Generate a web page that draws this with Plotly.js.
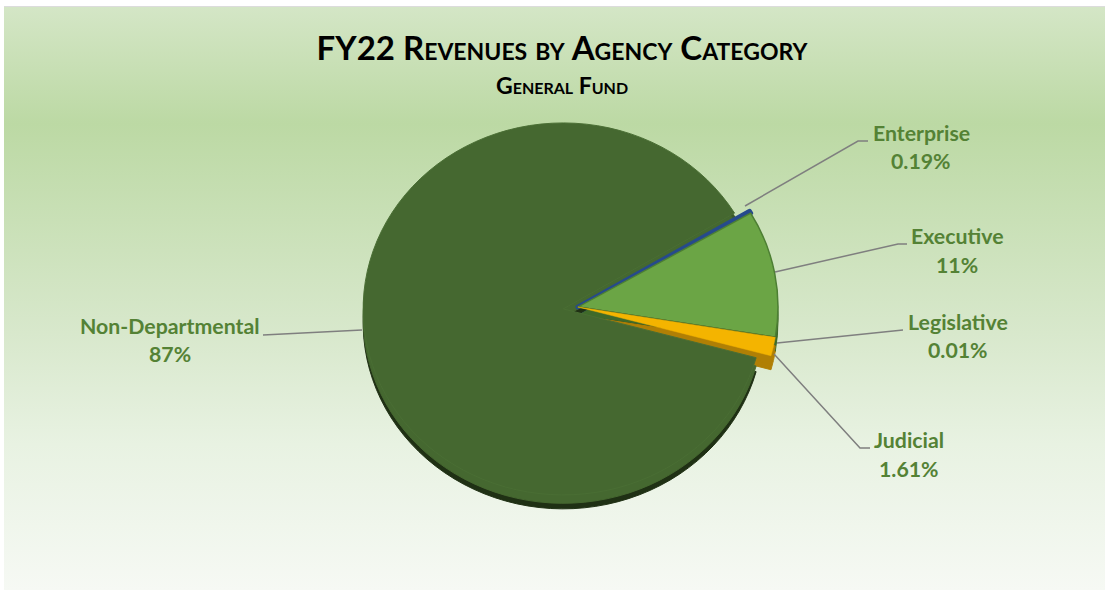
<!DOCTYPE html>
<html>
<head>
<meta charset="utf-8">
<script src="https://cdn.plot.ly/plotly-3.0.1.min.js"></script>
<style>
html,body{margin:0;padding:0;background:#fff;width:1108px;height:592px;overflow:hidden}
#bg{position:absolute;left:4px;top:6px;width:1101px;height:584px;border-top:1px solid #dcdcdc;box-sizing:border-box;
background:linear-gradient(180deg,#d4e6c6 0%,#bcd9a4 20%,#d8e8cc 56%,#e8f2e2 75%,#f6f9f4 100%)}
#chart{position:absolute;left:0;top:0;width:1108px;height:592px}
</style>
</head>
<body>
<div id="bg"></div>
<div id="chart"></div>
<script>
const categories = ["Enterprise","Executive","Legislative","Judicial","Non-Departmental"];
const shares = [0.19,11,0.01,1.61,87];
const shareLabels = ["0.19%","11%","0.01%","1.61%","87%"];

const W = 1108, H = 592;
const faceColors = ["#264a8c","#6ba545","#43682b","#f4b400","#456830"];
const rimColors = ["#1b3566","#3f6a2a","#2f4a1f","#b07f05","#1f3014"];
const midColors = ["#1b3566","#3f6a2a","#2f4a1f","#b07f05","#456830"];
const edgeColors = ["#264a8c","#4d7f33","#43682b","#f4b400","#4a6e34"];
const edgeWidths = [5,1.5,1.5,0.5,1];
const fillColors = categories.map(()=>"#3c5a28");
const pulls = [0,0,0,0,0.075];
const noPulls = [0,0,0,0,0];
const cx = 578, cy = 307, half = 215, fillRadius = 185, rimDrop = 15, midDrop = 9, squash = 0.93;

function dom(c, size, total, flip){
  const a = (c-size)/total, b = (c+size)/total;
  return flip ? [1-b, 1-a] : [a, b];
}
function pieTrace(colors, lines, lw, drop, pull, size){
  return {
    type:"pie", labels:categories, values:shares, sort:false, direction:"clockwise",
    rotation:59, pull:pull, textinfo:"none", hoverinfo:"none", showlegend:false,
    marker:{colors:colors, line:{color:lines, width:lw}},
    domain:{x:dom(cx,size,W,false), y:dom(cy+drop,size,H,true)}
  };
}

const labelPos = [[921,133,161],[957,236,265],[958,322,350],[909,440,469],[170,326,354]];
const leaders = [
  [[745,206],[858,141],[868,141]],
  [[775,272],[898,244],[907,244]],
  [[777,343],[903,330]],
  [[774,354],[860,448],[870,448]],
  [[362,330],[263,335]]
];
const labelFont = {family:"Lato, Carlito, sans-serif", size:21.3, color:"#548235"};
const annotations = [];
categories.forEach((c,i)=>{
  const p = labelPos[i];
  [[c,p[1]],[shareLabels[i],p[2]]].forEach(([t,y])=>{
    annotations.push({text:"<b>"+t+"</b>", x:p[0]/W, y:1-y/H, xref:"paper", yref:"paper",
      xanchor:"center", yanchor:"middle", showarrow:false, font:labelFont});
  });
});
annotations.push({text:"<b>General Fund</b>", x:562/W, y:1-84.5/H, xref:"paper", yref:"paper",
  xanchor:"center", yanchor:"middle", showarrow:false,
  font:{family:"Lato, Carlito, sans-serif", size:23, color:"#000", variant:"small-caps"}});

const shapes = leaders.map(pts=>({
  type:"path", xref:"paper", yref:"paper", layer:"above",
  path:pts.map((q,j)=>(j?"L":"M")+(q[0]/W)+","+(1-q[1]/H)).join(" "),
  line:{color:"#7f7f7f", width:1.5}
}));

const layout = {
  width:W, height:H, margin:{l:0,r:0,t:0,b:0},
  paper_bgcolor:"rgba(0,0,0,0)", plot_bgcolor:"rgba(0,0,0,0)",
  title:{text:"<b>FY22 Revenues by Agency Category</b>", x:562/W, xanchor:"center",
    y:1-48/H, yanchor:"middle",
    font:{family:"Lato, Carlito, sans-serif", size:33, color:"#000", variant:"small-caps"}},
  annotations, shapes, showlegend:false
};

Plotly.newPlot("chart",
  [pieTrace(fillColors,fillColors,0,0,noPulls,fillRadius),
   pieTrace(rimColors,rimColors,1,rimDrop,pulls,half),
   pieTrace(midColors,midColors,1,midDrop,pulls,half),
   pieTrace(faceColors,edgeColors,edgeWidths,0,pulls,half)],
  layout, {staticPlot:true, displayModeBar:false}
).then(gd=>{
  const g = gd.querySelector(".pielayer");
  g.setAttribute("transform","translate(0,"+(cy*(1-squash))+") scale(1,"+squash+")");
});
</script>
</body>
</html>
